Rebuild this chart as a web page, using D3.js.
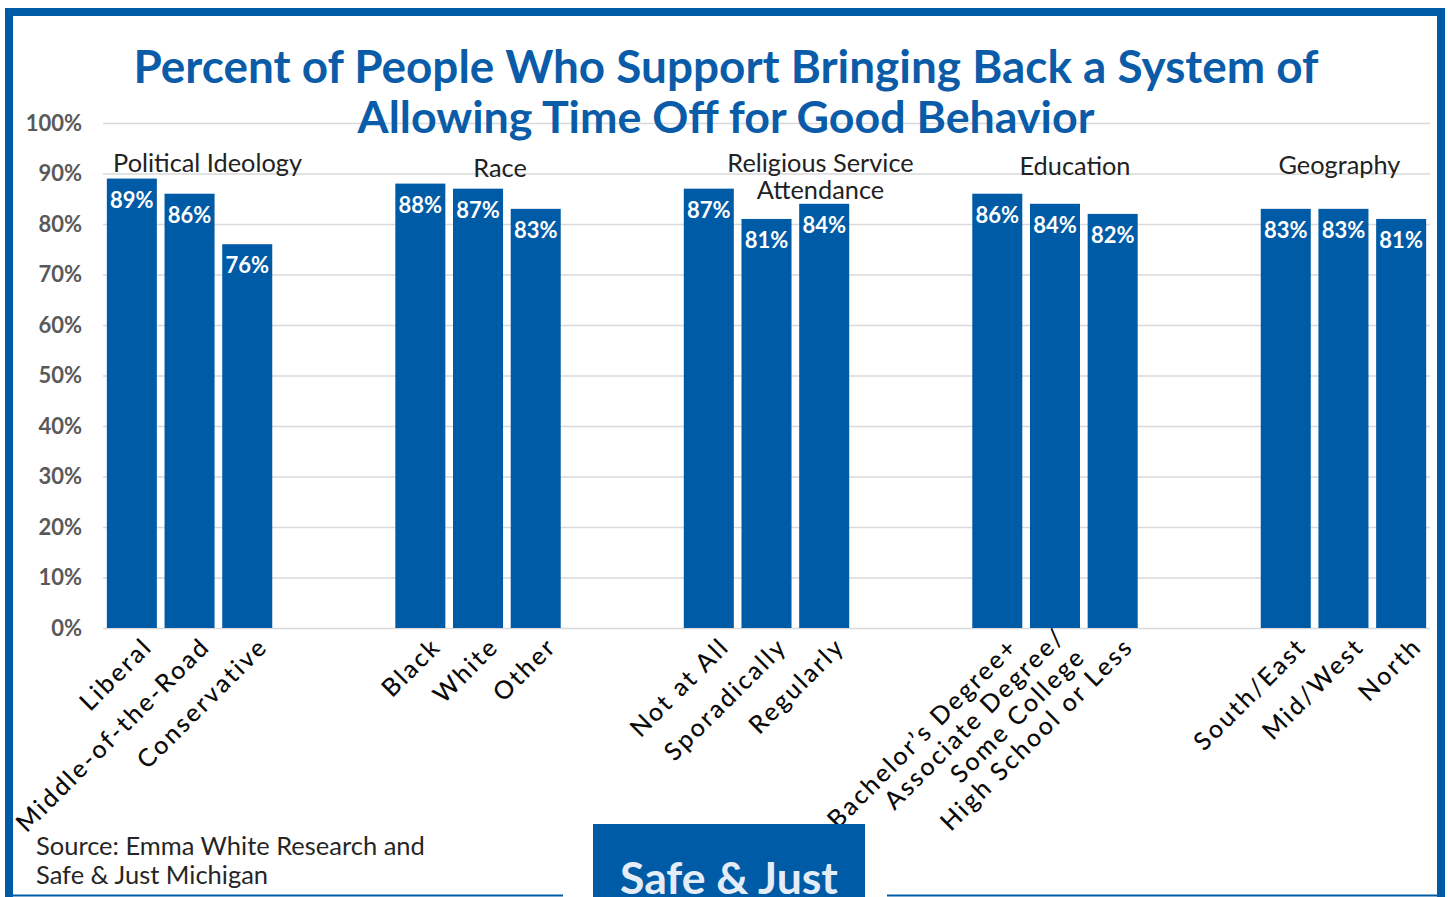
<!DOCTYPE html>
<html>
<head>
<meta charset="utf-8">
<script src="https://cdn.jsdelivr.net/npm/d3@7"></script>
<style>
  html, body { margin: 0; padding: 0; background: #fff; }
  svg { display: block; }
  text { font-family: Lato, "Open Sans", sans-serif; }
</style>
</head>
<body>
<svg id="chart" width="1448" height="897"></svg>
<script>
// ---- data ----
const titleLines = ["Percent of People Who Support Bringing Back a System of",
                    "Allowing Time Off for Good Behavior"];
const groups = ["Political Ideology", "Race", "Religious Service\nAttendance", "Education", "Geography"];
const categories = ["Liberal", "Middle-of-the-Road", "Conservative",
                    "Black", "White", "Other",
                    "Not at All", "Sporadically", "Regularly",
                    "Bachelor’s Degree+", "Associate Degree/\nSome College", "High School or Less",
                    "South/East", "Mid/West", "North"];
const categoryGroup = [0,0,0, 1,1,1, 2,2,2, 3,3,3, 4,4,4];
const values = [89, 86, 76, 88, 87, 83, 87, 81, 84, 86, 84, 82, 83, 83, 81];
const yTicks = [0, 10, 20, 30, 40, 50, 60, 70, 80, 90, 100];
const sourceLines = ["Source: Emma White Research and", "Safe & Just Michigan"];
const logoText = "Safe & Just";

// ---- layout (not data) ----
const blue = "#005BA6";
const slotsPerGroup = 5;
const groupLabelDx = [18, 22, 54, 20, -4];
const groupLabelY = [172, 177, 172, 175, 174];
const sans = "'Open Sans', Lato, sans-serif";

const svg = d3.select("#chart");

// fit helper: scale font-size so that a text node reaches a target width
function fitSize(node, size, target) {
  node.setAttribute("font-size", size);
  const w = node.getComputedTextLength();
  return size * target / w;
}

// frame
svg.append("rect").attr("x", 9).attr("y", 12).attr("width", 1432).attr("height", 900)
  .attr("fill", "none").attr("stroke", blue).attr("stroke-width", 8);

// slots
const posInGroup = [];
const counter = {};
categoryGroup.forEach((g) => { counter[g] = (counter[g] || 0); posInGroup.push(counter[g]); counter[g]++; });
const slotOf = categories.map((c, i) => categoryGroup[i] * slotsPerGroup + posInGroup[i]);
const nSlots = (groups.length - 1) * slotsPerGroup + 3;

const x = d3.scaleBand().domain(d3.range(nSlots)).range([103, 1430])
  .paddingInner(0.133).paddingOuter(0.0665);
const y = d3.scaleLinear().domain([0, 100]).range([628, 123]);

// gridlines
svg.append("g").selectAll("line").data(yTicks).join("line")
  .attr("x1", 103).attr("x2", 1430)
  .attr("y1", d => y(d) + 0.5).attr("y2", d => y(d) + 0.5)
  .attr("stroke", "#d9d9d9").attr("stroke-width", 1.5);

// y axis labels
const yAxis = d3.axisLeft(y).tickValues(yTicks).tickFormat(d => d + "%").tickSize(0).tickPadding(0);
const ya = svg.append("g").attr("transform", "translate(82,0)").call(yAxis);
ya.select(".domain").remove();
ya.selectAll("text").attr("font-family", "Lato, sans-serif").attr("font-size", 22)
  .attr("font-weight", "bold").attr("fill", "#595959");

// title
svg.append("g").selectAll("text").data(titleLines).join("text")
  .attr("x", 726).attr("y", (d, i) => 83 + i * 50)
  .attr("text-anchor", "middle").attr("font-weight", "bold")
  .attr("fill", "#0A5CA8").text(d => d)
  .each(function(d, i) {
    this.setAttribute("font-size", fitSize(this, 40, [1185, 737][i]));
  });

// bars
svg.append("g").selectAll("rect").data(values).join("rect")
  .attr("x", (d, i) => x(slotOf[i]))
  .attr("width", x.bandwidth())
  .attr("y", d => y(d))
  .attr("height", d => y(0) - y(d))
  .attr("fill", blue);

// value labels
svg.append("g").selectAll("text").data(values).join("text")
  .attr("x", (d, i) => x(slotOf[i]) + x.bandwidth() / 2)
  .attr("y", d => y(d) + 29)
  .attr("text-anchor", "middle").attr("font-weight", "bold").attr("font-size", 22)
  .attr("fill", "#fff").text(d => d + "%");

// group labels
const gl = svg.append("g").selectAll("text").data(groups).join("text")
  .attr("text-anchor", "middle").attr("fill", "#222").attr("font-family", sans)
  .attr("transform", (d, gi) => {
    const cx = x(gi * slotsPerGroup + 1) + x.bandwidth() / 2 + groupLabelDx[gi];
    return `translate(${cx},${groupLabelY[gi]})`;
  });
gl.selectAll("tspan").data(d => d.split("\n")).join("tspan")
  .attr("x", 0).attr("dy", (d, i) => i === 0 ? 0 : 27).text(d => d);
{
  const n = gl.filter((d, i) => i === 0).node();
  const s = fitSize(n, 22, 189);
  gl.attr("font-size", s);
}

// x labels (rotated)
const xl = svg.append("g").selectAll("text").data(categories).join("text")
  .attr("text-anchor", "end").attr("font-family", sans).attr("font-size", 25)
  .attr("font-weight", 500).attr("fill", "#0a0a0a")
  .attr("transform", (d, i) => `translate(${x(slotOf[i]) + x.bandwidth() / 2 + 16},${642}) rotate(-45)`);
xl.each(function(d) {
  const lines = d.split("\n");
  const lh = 28;
  d3.select(this).selectAll("tspan").data(lines).join("tspan")
    .attr("x", 0)
    .attr("y", (t, i) => (i - (lines.length - 1) / 2) * lh)
    .attr("dy", "0.35em")
    .text(t => t);
});
{
  const n = xl.filter((d, i) => i === 1).node();
  const w = n.getComputedTextLength();
  const chars = categories[1].length;
  xl.attr("letter-spacing", Math.max(0, (262 - w) / chars));
}

// source
const src = svg.append("g").selectAll("text").data(sourceLines).join("text")
  .attr("x", 36).attr("y", (d, i) => 855 + i * 29).attr("font-family", sans)
  .attr("fill", "#262626").text(d => d);
{
  const s = fitSize(src.node(), 22, 389);
  src.attr("font-size", s);
}

// bottom lines and logo
svg.append("line").attr("x1", 13).attr("x2", 563).attr("y1", 895.5).attr("y2", 895.5)
  .attr("stroke", blue).attr("stroke-width", 2);
svg.append("line").attr("x1", 887).attr("x2", 1437).attr("y1", 895.5).attr("y2", 895.5)
  .attr("stroke", blue).attr("stroke-width", 2);
svg.append("rect").attr("x", 593).attr("y", 824).attr("width", 272).attr("height", 80).attr("fill", blue);
svg.append("text").attr("x", 620).attr("y", 894).attr("font-weight", "bold")
  .attr("fill", "#e4edf7").text(logoText)
  .each(function() { this.setAttribute("font-size", fitSize(this, 42, 218)); });
</script>
</body>
</html>
